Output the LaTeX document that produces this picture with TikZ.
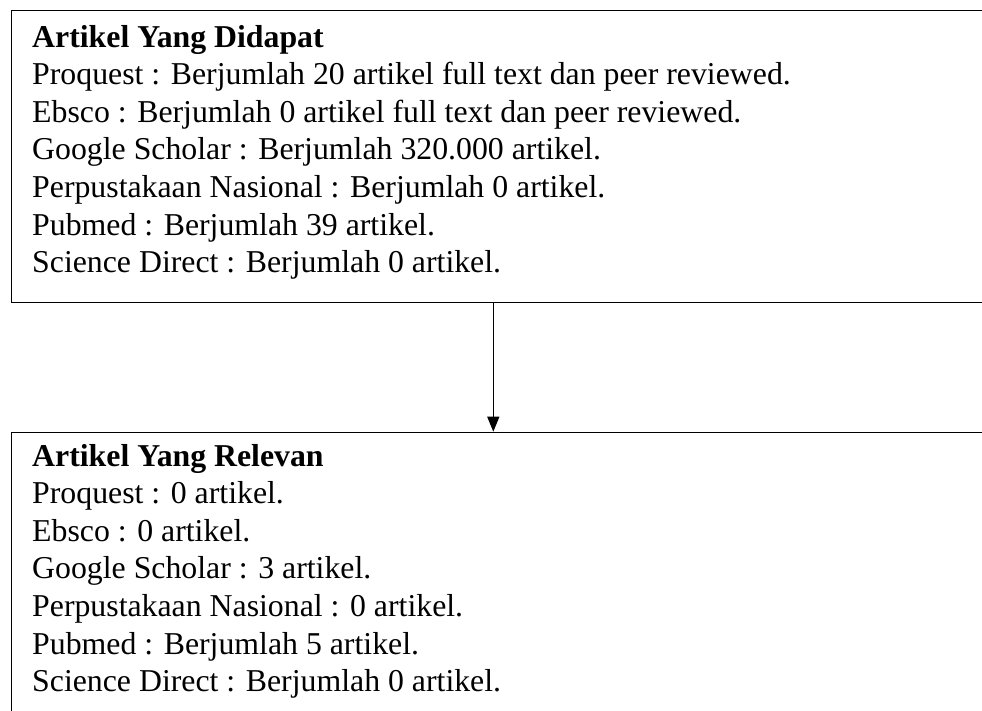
\documentclass[tikz,border=0pt]{standalone}
\usepackage{fontspec}
\setmainfont{Liberation Serif}
\usetikzlibrary{arrows.meta}
\tikzset{
  x=1pt, y=-1pt,
  boxframe/.style={draw=black, line width=1.3pt, rectangle, inner sep=0pt, anchor=north west, minimum width=1200pt},
  linetxt/.style={anchor=base west, inner sep=0pt, font=\fontsize{31.8}{37.5}\selectfont},
  conn/.style={draw=black, line width=1.3pt, -{Triangle[length=15pt,width=12pt]}}
}
\begin{document}
\begin{tikzpicture}
\useasboundingbox (0,0) rectangle (982,710);
\clip (0,0) rectangle (982,710);
\node[boxframe, minimum height=291.7pt] (found) at (11,10) {};
\node[boxframe, minimum height=400pt] (relev) at (11,431.7) {};
\coordinate (ax) at (493.3,0);
\foreach \s [count=\i] in {{\textbf{Artikel Yang Didapat}},
  {Proquest : Berjumlah 20 artikel full text dan peer reviewed.},
  {Ebsco : Berjumlah 0 artikel full text dan peer reviewed.},
  {Google Scholar : Berjumlah 320.000 artikel.},
  {Perpustakaan Nasional : Berjumlah 0 artikel.},
  {Pubmed : Berjumlah 39 artikel.},
  {Science Direct : Berjumlah 0 artikel.}}
  \node[linetxt] (f\i) at (32,{47+37.6*(\i-1)}) {\s};
\foreach \s [count=\i] in {{\textbf{Artikel Yang Relevan}},
  {Proquest : 0 artikel.},
  {Ebsco : 0 artikel.},
  {Google Scholar : 3 artikel.},
  {Perpustakaan Nasional : 0 artikel.},
  {Pubmed : Berjumlah 5 artikel.},
  {Science Direct : Berjumlah 0 artikel.}}
  \node[linetxt] (r\i) at (32,{466+37.6*(\i-1)}) {\s};
\draw[conn] (found.south -| ax) -- (relev.north -| ax);
\end{tikzpicture}
\end{document}
